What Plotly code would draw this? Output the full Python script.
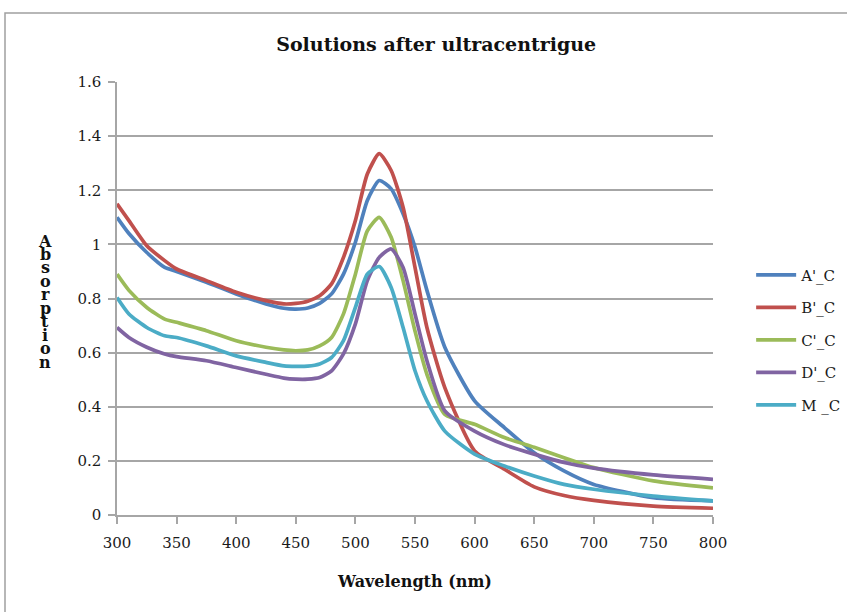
import plotly.graph_objects as go

# Absorption spectra of the solutions after ultracentrifugation
wavelength = [300, 310, 325, 340, 350, 375, 400, 425, 440, 450, 460, 470, 480, 490,
              500, 510, 520, 530, 540, 550, 560, 575, 600, 625, 650, 675, 700, 750, 800]

a_c = [1.10, 1.04, 0.97, 0.915, 0.90, 0.86, 0.817, 0.78, 0.764, 0.761, 0.765, 0.782, 0.817, 0.89,
       1.008, 1.162, 1.236, 1.205, 1.113, 0.99, 0.83, 0.62, 0.422, 0.323, 0.23, 0.163, 0.113, 0.064, 0.052]
b_c = [1.15, 1.088, 0.995, 0.94, 0.909, 0.866, 0.823, 0.792, 0.78, 0.782, 0.79, 0.81, 0.854, 0.952,
       1.088, 1.26, 1.335, 1.273, 1.137, 0.915, 0.693, 0.471, 0.237, 0.169, 0.104, 0.072, 0.054, 0.033, 0.025]
c_c = [0.89, 0.83, 0.767, 0.724, 0.712, 0.681, 0.644, 0.62, 0.61, 0.607, 0.61, 0.625, 0.656, 0.743,
       0.89, 1.05, 1.10, 1.026, 0.866, 0.68, 0.52, 0.372, 0.335, 0.286, 0.25, 0.212, 0.175, 0.126, 0.10]
d_c = [0.693, 0.656, 0.62, 0.595, 0.585, 0.57, 0.545, 0.52, 0.506, 0.502, 0.502, 0.508, 0.533, 0.595,
       0.706, 0.866, 0.952, 0.983, 0.915, 0.743, 0.57, 0.385, 0.31, 0.26, 0.225, 0.194, 0.173, 0.148, 0.132]
m_c = [0.804, 0.743, 0.693, 0.662, 0.656, 0.625, 0.588, 0.564, 0.551, 0.549, 0.55, 0.558, 0.582, 0.644,
       0.767, 0.89, 0.918, 0.841, 0.693, 0.533, 0.422, 0.31, 0.225, 0.181, 0.144, 0.113, 0.095, 0.07, 0.052]

series_names = ["A'_C", "B'_C", "C'_C", "D'_C", "M _C"]
series_values = [a_c, b_c, c_c, d_c, m_c]
series_colors = ["#4F81BD", "#C0504D", "#9BBB59", "#8064A2", "#4BACC6"]

y_label = "Absorption"

SERIF = "DejaVu Serif"
GRID = "#A6A6A6"

fig = go.Figure()
for i, (name, vals, col) in enumerate(zip(series_names, series_values, series_colors)):
    fig.add_trace(go.Scatter(
        x=wavelength, y=vals, name=name, mode="lines",
        line=dict(color=col, width=3.7, shape="spline", smoothing=0.6),
        legendgroup=f"g{i}",
    ))

fig.update_layout(
    width=847, height=612,
    margin=dict(l=117, r=134, t=82, b=97, autoexpand=False),
    paper_bgcolor="white", plot_bgcolor="white",
    font=dict(family=SERIF, size=15, color="#1a1a1a"),
    title=dict(text="<b>Solutions after ultracentrigue</b>", x=0.515, xanchor="center",
               y=0.927, yanchor="middle", font=dict(family=SERIF, size=19, color="#111")),
    legend=dict(x=1.064, y=0.404, xanchor="left", yanchor="middle",
                font=dict(family=SERIF, size=15, color="#1a1a1a"),
                tracegroupgap=10, itemwidth=40, bgcolor="rgba(0,0,0,0)"),
    xaxis=dict(range=[300, 800], dtick=50, tick0=300, showgrid=False,
               showline=True, linecolor=GRID, linewidth=1.5,
               ticks="outside", ticklen=7, tickcolor=GRID, tickwidth=1.5,
               ticklabelstandoff=6, zeroline=False,
               title=dict(text="<b>Wavelength (nm)</b>", font=dict(family=SERIF, size=16, color="#111"),
                          standoff=25)),
    yaxis=dict(range=[0, 1.6], dtick=0.2, tick0=0, showgrid=True, gridcolor=GRID, gridwidth=1.5,
               showline=True, linecolor=GRID, linewidth=1.5,
               ticks="outside", ticklen=7, tickcolor=GRID, tickwidth=1.5,
               ticklabelstandoff=4, zeroline=False),
)

# Outer chart-area border
fig.add_shape(type="rect", xref="paper", yref="paper",
              x0=(5 - 117) / 596, x1=(870 - 117) / 596,
              y0=(515 - 630) / 433, y1=(515 - 13) / 433,
              line=dict(color="#A0A0A0", width=1.5), fillcolor="rgba(0,0,0,0)", layer="below")

# Vertical stacked y-axis title, one letter per line
n = len(y_label)
for k, ch in enumerate(y_label):
    ypix = 241 + k * (362 - 241) / (n - 1)
    fig.add_annotation(text=f"<b>{ch}</b>", xref="paper", yref="paper",
                       x=(45 - 117) / 596, y=(515 - ypix) / 433,
                       xanchor="center", yanchor="middle", showarrow=False,
                       font=dict(family=SERIF, size=16, color="#111"))

fig.write_html("out.html")
